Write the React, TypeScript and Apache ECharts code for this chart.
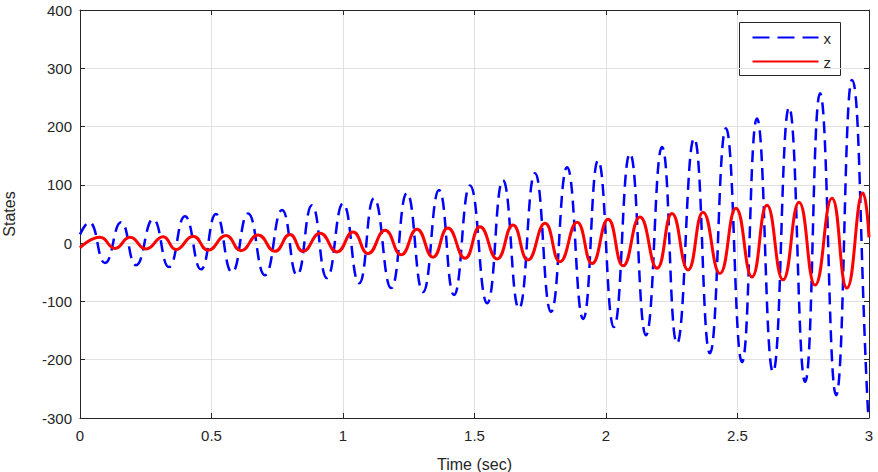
import React, { useEffect, useRef } from "react";
import * as echarts from "echarts";

// Time (s) and value pairs (extrema of each trace)
const xTimes = [0, 0.034, 0.095, 0.156, 0.213, 0.278, 0.338, 0.399, 0.46, 0.517, 0.578, 0.639, 0.703, 0.768, 0.825, 0.882, 0.939, 1.0, 1.061, 1.118, 1.183, 1.243, 1.304, 1.365, 1.422, 1.483, 1.548, 1.608, 1.669, 1.73, 1.791, 1.852, 1.913, 1.97, 2.03, 2.091, 2.152, 2.213, 2.27, 2.335, 2.395, 2.456, 2.517, 2.574, 2.635, 2.696, 2.757, 2.814, 2.875, 2.935, 2.996, 3.0];
const xValues = [15, 36, -34, 36, -38, 41, -41, 46, -45, 50, -50, 51, -55, 57, -55, 65, -60, 68, -69, 77, -77, 86, -84, 91, -89, 99, -103, 108, -112, 120, -118, 130, -130, 142, -144, 154, -158, 165, -172, 180, -189, 197, -204, 214, -221, 233, -238, 257, -261, 280, -287, -290];

const zTimes = [0, 0.076, 0.133, 0.19, 0.251, 0.316, 0.365, 0.43, 0.487, 0.555, 0.612, 0.677, 0.741, 0.798, 0.848, 0.913, 0.977, 1.038, 1.095, 1.16, 1.221, 1.281, 1.342, 1.399, 1.464, 1.521, 1.586, 1.646, 1.703, 1.768, 1.825, 1.89, 1.947, 2.008, 2.065, 2.129, 2.194, 2.251, 2.312, 2.369, 2.433, 2.494, 2.555, 2.612, 2.673, 2.734, 2.795, 2.859, 2.916, 2.977, 3.0];
const zValues = [-8, 10, -9, 10, -10, 11, -11, 12, -12, 13, -13, 14, -14, 15, -14, 17, -15, 19, -18, 22, -20, 24, -24, 26, -26, 28, -27, 31, -29, 34, -32, 36, -35, 41, -39, 45, -43, 51, -46, 53, -52, 60, -58, 65, -63, 70, -72, 77, -77, 86, 10];

const seriesNames = ["x", "z"];
const xAxisTitle = "Time (sec)";
const yAxisTitle = "States";

const FONT = "'Liberation Sans', Arial, sans-serif";
const AXIS_COLOR = "#262626";
const GRID_COLOR = "#e0e0e0";

export default function App() {
  const ref = useRef<HTMLDivElement>(null);

  useEffect(() => {
    if (!ref.current) return;
    const chart = echarts.init(ref.current, null, { renderer: "svg" });

    const xData = xTimes.map((t, i) => [t, xValues[i]]);
    const zData = zTimes.map((t, i) => [t, zValues[i]]);

    const axisCommon = {
      type: "value" as const,
      axisLine: { show: true, onZero: false, lineStyle: { color: AXIS_COLOR, width: 1 } },
      axisTick: { show: true, inside: true, length: 5, lineStyle: { color: AXIS_COLOR } },
    };

    chart.setOption({
      animation: false,
      backgroundColor: "#ffffff",
      textStyle: { fontFamily: FONT },
      grid: { left: 80, right: 9, top: 10, bottom: 54, containLabel: false, outerBoundsMode: "none" },
      xAxis: [
        {
          ...axisCommon,
          position: "bottom",
          min: 0,
          max: 3,
          interval: 0.5,
          name: xAxisTitle,
          nameLocation: "middle",
          nameGap: 38,
          nameTextStyle: { fontSize: 16, color: AXIS_COLOR, fontFamily: FONT },
          axisLabel: { fontSize: 15, color: AXIS_COLOR, margin: 10, fontFamily: FONT },
          splitLine: { show: true, lineStyle: { color: GRID_COLOR, width: 1 } },
        },
        {
          ...axisCommon,
          position: "top",
          min: 0,
          max: 3,
          interval: 0.5,
          axisLabel: { show: false },
          splitLine: { show: false },
        },
      ],
      yAxis: [
        {
          ...axisCommon,
          position: "left",
          min: -300,
          max: 400,
          interval: 100,
          name: yAxisTitle,
          nameLocation: "middle",
          nameGap: 63,
          nameTextStyle: { fontSize: 16, color: AXIS_COLOR, fontFamily: FONT },
          axisLabel: { fontSize: 15, color: AXIS_COLOR, margin: 8, fontFamily: FONT },
          splitLine: { show: true, lineStyle: { color: GRID_COLOR, width: 1 } },
        },
        {
          ...axisCommon,
          position: "right",
          min: -300,
          max: 400,
          interval: 100,
          axisLabel: { show: false },
          splitLine: { show: false },
        },
      ],
      series: [
        {
          name: seriesNames[0],
          type: "line",
          data: xData,
          smooth: 0.5,
          showSymbol: false,
          symbol: "none",
          lineStyle: { color: "#0000ff", width: 2.5, type: [12, 7] },
          z: 2,
        },
        {
          name: seriesNames[1],
          type: "line",
          data: zData,
          smooth: 0.5,
          showSymbol: false,
          symbol: "none",
          lineStyle: { color: "#ff0000", width: 3 },
          z: 3,
        },
      ],
      graphic: [
        {
          type: "group",
          left: 739,
          top: 22,
          z: 100,
          children: [
            {
              type: "rect",
              shape: { x: 0, y: 0, width: 101, height: 53 },
              style: { fill: "#ffffff", stroke: AXIS_COLOR, lineWidth: 1 },
            },
            {
              type: "line",
              shape: { x1: 13, y1: 15, x2: 79, y2: 15 },
              style: { stroke: "#0000ff", lineWidth: 2, lineDash: [17, 8] },
            },
            {
              type: "text",
              x: 84,
              y: 16,
              style: { text: seriesNames[0], fontSize: 15, fill: AXIS_COLOR, fontFamily: FONT, verticalAlign: "middle" },
            },
            {
              type: "line",
              shape: { x1: 13, y1: 39, x2: 79, y2: 39 },
              style: { stroke: "#ff0000", lineWidth: 2 },
            },
            {
              type: "text",
              x: 84,
              y: 40,
              style: { text: seriesNames[1], fontSize: 15, fill: AXIS_COLOR, fontFamily: FONT, verticalAlign: "middle" },
            },
          ],
        },
      ],
    });

    return () => chart.dispose();
  }, []);

  return <div ref={ref} style={{ width: 878, height: 472, position: "absolute", left: 0, top: 0 }} />;
}
